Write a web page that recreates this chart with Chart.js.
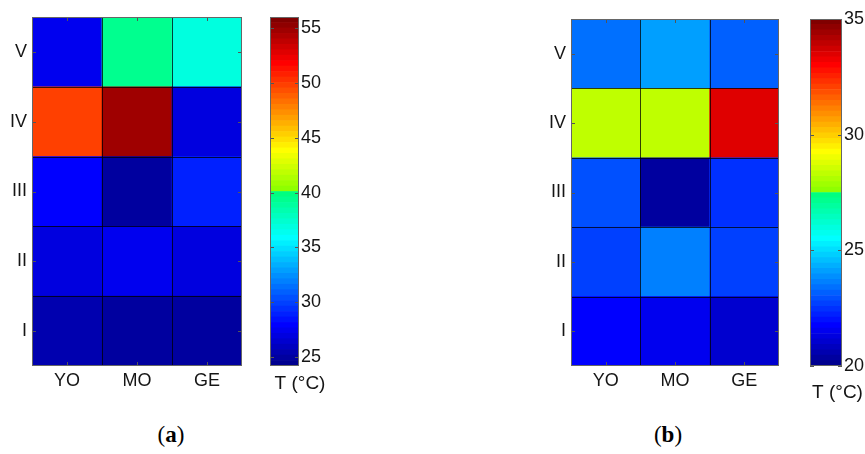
<!DOCTYPE html>
<html>
<head>
<meta charset="utf-8">
<script src="https://cdn.jsdelivr.net/npm/chart.js@4.4.0/dist/chart.umd.min.js"></script>
<style>
    body { margin: 0; background: #fff; }
    #wrap { position: relative; width: 865px; height: 454px; overflow: hidden; }
    .box { position: absolute; }
    .cap { position: absolute; top: 422px; font-family: "Liberation Serif", serif; font-size: 23px; color: #000; transform: translateX(-50%); }
</style>
</head>
<body>
<div id="wrap">
    <div class="box" style="left:0;top:0;width:250px;height:400px"><canvas id="heatA"></canvas></div>
    <div class="box" style="left:270px;top:0;width:60px;height:400px"><canvas id="barA"></canvas></div>
    <div class="box" style="left:539px;top:0;width:250px;height:400px"><canvas id="heatB"></canvas></div>
    <div class="box" style="left:810px;top:0;width:55px;height:410px"><canvas id="barB"></canvas></div>
    <div class="cap" style="left:171px">(<b>a</b>)</div>
    <div class="cap" style="left:668px">(<b>b</b>)</div>
</div>
<script>
const columns = ['YO', 'MO', 'GE'];
const rows = ['I', 'II', 'III', 'IV', 'V'];

// panel (a): temperature per row I..V
const aYO = [25.2, 26.8, 28.0, 49.6, 27.6];
const aMO = [25.1, 27.4, 24.8, 54.8, 39.4];
const aGE = [24.8, 26.8, 29.1, 26.8, 36.9];
const rangeA = [24.2, 56];
const ticksA = [25, 30, 35, 40, 45, 50, 55];

// panel (b)
const bYO = [21.7, 22.8, 22.9, 28.4, 23.5];
const bMO = [21.5, 23.6, 20.3, 28.4, 24.2];
const bGE = [21.1, 22.8, 22.5, 33.4, 23.2];
const rangeB = [20, 35];
const ticksB = [20, 25, 30, 35];

const FONT = '"Liberation Sans", Arial, sans-serif';
const TXT = '#151515';

// jet, 64 levels (green band a bit more saturated, like the printed figure)
function jetColor(k) {
    const i = k + 1;
    const u = j => (j < 1 || j > 47) ? 0 : (j <= 16 ? j / 16 : (j <= 31 ? 1 : (48 - j) / 16));
    let r = u(i - 24), g = u(i - 8), b = u(i + 8);
    if (g === 1 && r <= 0.5) r = 0;
    if (g === 1 && b < 0.5) b = 0;
    return 'rgb(' + Math.round(r * 255) + ',' + Math.round(g * 255) + ',' + Math.round(b * 255) + ')';
}
function level(v, range) {
    const k = Math.floor((v - range[0]) / (range[1] - range[0]) * 64);
    return Math.max(0, Math.min(63, k));
}

// frame, cell lines and inward tick marks
const framePlugin = {
    id: 'frame',
    afterDatasetsDraw(chart, args, opts) {
        const ctx = chart.ctx, a = chart.chartArea, x = chart.scales.x, y = chart.scales.y;
        ctx.save();
        ctx.lineWidth = 1;
        if (opts.cells) {
            ctx.strokeStyle = 'rgba(0,0,0,0.75)';
            ctx.beginPath();
            for (let i = 1; i < x.ticks.length; i++) {
                const px = Math.round((x.getPixelForTick(i - 1) + x.getPixelForTick(i)) / 2) + 0.5;
                ctx.moveTo(px, a.top); ctx.lineTo(px, a.bottom);
            }
            for (let j = 1; j < rows.length; j++) {
                const py = Math.round(y.getPixelForValue(j)) + 0.5;
                ctx.moveTo(a.left, py); ctx.lineTo(a.right, py);
            }
            ctx.stroke();
        }
        ctx.strokeStyle = '#555';
        ctx.beginPath();
        const L = 4;
        y.ticks.forEach(t => {
            const py = Math.round(y.getPixelForValue(t.value)) + 0.5;
            ctx.moveTo(a.left, py); ctx.lineTo(a.left + L, py);
            ctx.moveTo(a.right, py); ctx.lineTo(a.right - L, py);
        });
        if (opts.cells) {
            x.ticks.forEach((t, i) => {
                const px = Math.round(x.getPixelForTick(i)) + 0.5;
                ctx.moveTo(px, a.bottom); ctx.lineTo(px, a.bottom - L);
                ctx.moveTo(px, a.top); ctx.lineTo(px, a.top + L);
            });
        }
        ctx.stroke();
        ctx.strokeStyle = '#666';
        ctx.strokeRect(a.left + 0.5, a.top + 0.5, a.right - a.left - 1, a.bottom - a.top - 1);
        ctx.restore();
    }
};

function heatmap(id, cols, range, padTop, padRight) {
    const datasets = rows.map((r, i) => ({
        label: r,
        data: cols.map(() => [i, i + 1]),
        backgroundColor: cols.map(c => jetColor(level(c[i], range))),
        borderWidth: 0,
        grouped: false,
        barPercentage: 1,
        categoryPercentage: 1
    }));
    new Chart(document.getElementById(id), {
        type: 'bar',
        data: { labels: columns, datasets: datasets },
        options: {
            responsive: true,
            maintainAspectRatio: false,
            animation: false,
            layout: { padding: { top: padTop, right: padRight, left: 0, bottom: 0 } },
            scales: {
                x: {
                    grid: { display: false, drawTicks: false },
                    border: { display: false },
                    ticks: { color: TXT, font: { family: FONT, size: 18 }, padding: 4 },
                    afterFit: s => { s.height = 34; }
                },
                y: {
                    min: 0,
                    max: rows.length,
                    grid: { display: false, drawTicks: false },
                    border: { display: false },
                    afterBuildTicks: s => { s.ticks = rows.map((r, i) => ({ value: i + 0.5 })); },
                    ticks: {
                        color: TXT,
                        font: { family: FONT, size: 18 },
                        padding: 5,
                        callback: v => rows[Math.floor(v)]
                    },
                    afterFit: s => { s.width = 32; }
                }
            },
            plugins: {
                legend: { display: false },
                tooltip: { enabled: false },
                frame: { cells: true }
            }
        },
        plugins: [framePlugin]
    });
}

function colorbar(id, range, tickVals, padTop, axisW, titlePad, padBottom) {
    const datasets = [];
    for (let k = 0; k < 64; k++) {
        const lo = range[0] + (range[1] - range[0]) * k / 64;
        const hi = range[0] + (range[1] - range[0]) * (k + 1) / 64;
        datasets.push({
            data: [[lo, hi]],
            backgroundColor: jetColor(k),
            borderWidth: 0,
            grouped: false,
            barPercentage: 1,
            categoryPercentage: 1
        });
    }
    new Chart(document.getElementById(id), {
        type: 'bar',
        data: { labels: [''], datasets: datasets },
        options: {
            responsive: true,
            maintainAspectRatio: false,
            animation: false,
            layout: { padding: { top: padTop, right: 0, left: 0, bottom: padBottom } },
            scales: {
                x: { display: false },
                y: {
                    position: 'right',
                    min: range[0],
                    max: range[1],
                    grid: { display: false, drawTicks: false },
                    border: { display: false },
                    afterBuildTicks: s => { s.ticks = tickVals.map(v => ({ value: v })); },
                    ticks: { color: TXT, font: { family: FONT, size: 18 }, padding: 2 },
                    afterFit: s => { s.width = axisW; }
                }
            },
            plugins: {
                legend: { display: false },
                tooltip: { enabled: false },
                title: {
                    display: true,
                    position: 'bottom',
                    text: 'T (°C)',
                    color: TXT,
                    font: { family: FONT, size: 19, weight: 'normal', lineHeight: 1 },
                    padding: { top: titlePad, bottom: 0 }
                },
                frame: { cells: false }
            }
        },
        plugins: [framePlugin]
    });
}

heatmap('heatA', [aYO, aMO, aGE], rangeA, 17, 8);
colorbar('barA', rangeA, ticksA, 17, 31, 8, 7);
heatmap('heatB', [bYO, bMO, bGE], rangeB, 19, 10);
colorbar('barB', rangeB, ticksB, 19, 23, 17, 8);
</script>
</body>
</html>
